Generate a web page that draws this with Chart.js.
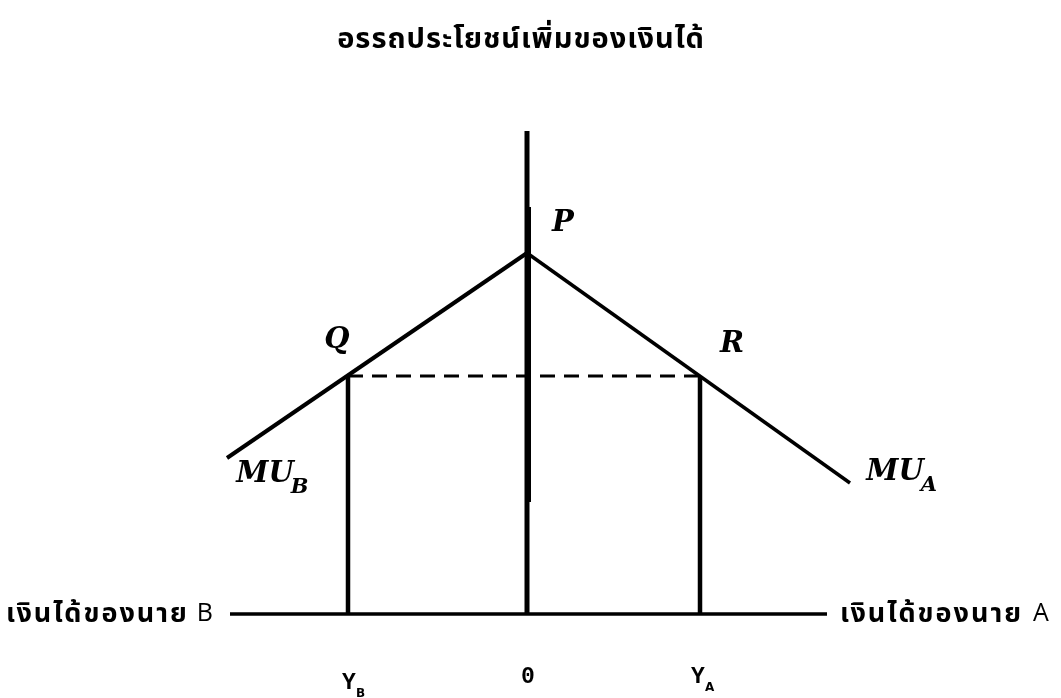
<!DOCTYPE html>
<html>
<head>
<meta charset="utf-8">
<script src="https://cdn.jsdelivr.net/npm/chart.js@4"></script>
<style>
  html, body { margin: 0; padding: 0; background: #fff; }
  #wrap { width: 1061px; height: 698px; }
</style>
</head>
<body>
<div id="wrap"><canvas id="mu-chart" width="1061" height="698"></canvas></div>
<script>
// Marginal utility of income, two people (A to the right of 0, B to the left).
// Units: x = income offset from the origin 0, y = marginal utility.
const muB = [{ x: -300, y: 156 }, { x: 0, y: 361 }];
const muA = [{ x: 0, y: 361 }, { x: 323, y: 131 }];
const utilityAxis = [{ x: 0, y: 0 }, { x: 0, y: 483 }];
const utilityAxisHeavy = [{ x: 1, y: 112 }, { x: 1, y: 407 }];
const incomeAxis = [{ x: -297, y: 0 }, { x: 300, y: 0 }];
const dropQ = [{ x: -179, y: 0 }, { x: -179, y: 238 }];
const dropR = [{ x: 173, y: 0 }, { x: 173, y: 238 }];
const equalMU = [{ x: -179, y: 238 }, { x: 173, y: 238 }];

const TITLE = "อรรถประโยชน์เพิ่มของเงินได้";
const LABEL_B = "เงินได้ของนาย";
const LABEL_A = "เงินได้ของนาย";

// text marks: [text, subscript, x, y]
const pointLabels = [
  ["P", "", 36, 391],
  ["Q", "", -190, 274],
  ["R", "", 205, 270],
  ["MU", "B", -262, 140],
  ["MU", "A", 368, 142],
];
const tickLabels = [
  ["Y", "B", -178, -69],
  ["0", "", 1, -63],
  ["Y", "A", 171, -63],
];

const THAI = '"Noto Sans Thai", "Noto Sans Thai Looped", "Loma", "Garuda", "Noto Sans", sans-serif';
const HAND = 'italic 600 29px "DejaVu Serif", serif';

const textPlugin = {
  id: "textMarks",
  afterDatasetsDraw(chart) {
    const c = chart.ctx;
    const sx = chart.scales.x, sy = chart.scales.y;
    const px = (v) => sx.getPixelForValue(v);
    const py = (v) => sy.getPixelForValue(v);
    c.save();
    c.fillStyle = "#000";
    c.textBaseline = "middle";

    // title
    c.textAlign = "center";
    c.letterSpacing = "1px";
    c.font = `bold 29px ${THAI}`;
    c.fillText(TITLE, px(-6), py(572));

    // income axis labels
    c.textAlign = "right";
    c.letterSpacing = "0px";
    c.font = `25px "Open Sans", sans-serif`;
    const bw = c.measureText("B").width;
    c.fillText("B", px(-314), py(0));
    c.letterSpacing = "2px";
    c.font = `bold 27px ${THAI}`;
    c.fillText(LABEL_B, px(-314) - bw - 8, py(-3));

    c.textAlign = "left";
    const aw = c.measureText(LABEL_A).width;
    c.fillText(LABEL_A, px(313), py(-3));
    c.letterSpacing = "0px";
    c.font = `25px "Open Sans", sans-serif`;
    c.fillText("A", px(313) + aw + 10, py(0));

    // handwritten-looking point labels
    for (const [t, sub, x, y] of pointLabels) {
      c.font = HAND;
      c.textAlign = "center";
      const w = c.measureText(t).width;
      c.fillText(t, px(x), py(y));
      if (sub) {
        c.font = 'italic 600 21px "DejaVu Serif", serif';
        c.textAlign = "left";
        c.fillText(sub, px(x) + w / 2 - 3, py(y) + 14);
      }
    }

    // tick labels under the income axis
    for (const [t, sub, x, y] of tickLabels) {
      c.font = 'bold 23px "Liberation Mono", "DejaVu Sans Mono", monospace';
      c.textAlign = "center";
      const w = c.measureText(t).width;
      c.fillText(t, px(x), py(y));
      if (sub) {
        c.font = 'bold 12px "DejaVu Sans", sans-serif';
        c.textAlign = "left";
        c.fillText(sub, px(x) + w / 2, py(y) + 11);
      }
    }
    c.restore();
  },
};

const line = (data, width, extra = {}) => ({
  data,
  showLine: true,
  borderColor: "#000",
  borderWidth: width,
  pointRadius: 0,
  borderCapStyle: "butt",
  tension: 0,
  ...extra,
});

new Chart(document.getElementById("mu-chart"), {
  type: "scatter",
  plugins: [textPlugin],
  data: {
    datasets: [
      line(incomeAxis, 3.5),
      line(utilityAxis, 5),
      line(utilityAxisHeavy, 6),
      line(dropQ, 4.5),
      line(dropR, 4.5),
      line(equalMU, 3, { borderDash: [15, 9] }),
      line(muB, 4),
      line(muA, 3.5),
    ],
  },
  options: {
    responsive: false,
    animation: false,
    layout: { padding: 0 },
    plugins: { legend: { display: false }, tooltip: { enabled: false } },
    scales: {
      x: { type: "linear", min: -527, max: 534, display: false },
      y: { type: "linear", min: -84, max: 614, display: false },
    },
  },
});
</script>
</body>
</html>
